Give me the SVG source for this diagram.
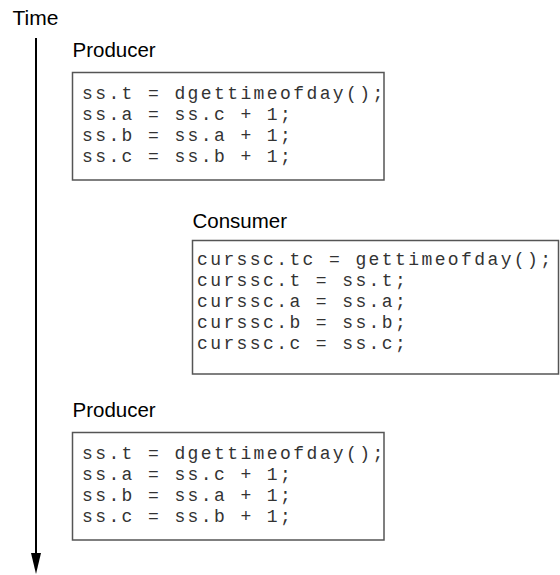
<svg xmlns="http://www.w3.org/2000/svg" width="560" height="575" viewBox="0 0 560 575">
<style>
.lbl{font-family:"Liberation Sans",Arial,sans-serif;font-size:20.5px;fill:#000}
.code{font-family:"Liberation Mono","Courier New",monospace;font-size:18px;letter-spacing:2.4px;fill:#333}
.box{fill:#fff;stroke:#555;stroke-width:1.5}
</style>
<g id="time-axis">
<text class="lbl" x="12.5" y="25" style="font-size:21px">Time</text>
</g>
<g id="connectors">
<line x1="36" y1="38" x2="36" y2="556" stroke="#000" stroke-width="2"/>
<path d="M31,553 L41,553 L36,574 Z" fill="#000"/>
</g>
<g id="producer1">
<text class="lbl" x="72.5" y="57">Producer</text>
<rect class="box" x="72.5" y="72.5" width="311.5" height="107.5"/>
<text class="code" x="82" y="98.5">ss.t = dgettimeofday();</text>
<text class="code" x="82" y="119.5">ss.a = ss.c + 1;</text>
<text class="code" x="82" y="140.5">ss.b = ss.a + 1;</text>
<text class="code" x="82" y="161.5">ss.c = ss.b + 1;</text>
</g>
<g id="consumer">
<text class="lbl" x="192.5" y="228">Consumer</text>
<rect class="box" x="192.5" y="240.5" width="366" height="133.5"/>
<text class="code" x="197" y="265">curssc.tc = gettimeofday();</text>
<text class="code" x="197" y="286">curssc.t = ss.t;</text>
<text class="code" x="197" y="307">curssc.a = ss.a;</text>
<text class="code" x="197" y="328">curssc.b = ss.b;</text>
<text class="code" x="197" y="349">curssc.c = ss.c;</text>
</g>
<g id="producer2">
<text class="lbl" x="72.5" y="417">Producer</text>
<rect class="box" x="72.5" y="432.5" width="311.5" height="107.5"/>
<text class="code" x="82" y="458.5">ss.t = dgettimeofday();</text>
<text class="code" x="82" y="479.5">ss.a = ss.c + 1;</text>
<text class="code" x="82" y="500.5">ss.b = ss.a + 1;</text>
<text class="code" x="82" y="521.5">ss.c = ss.b + 1;</text>
</g>
</svg>
